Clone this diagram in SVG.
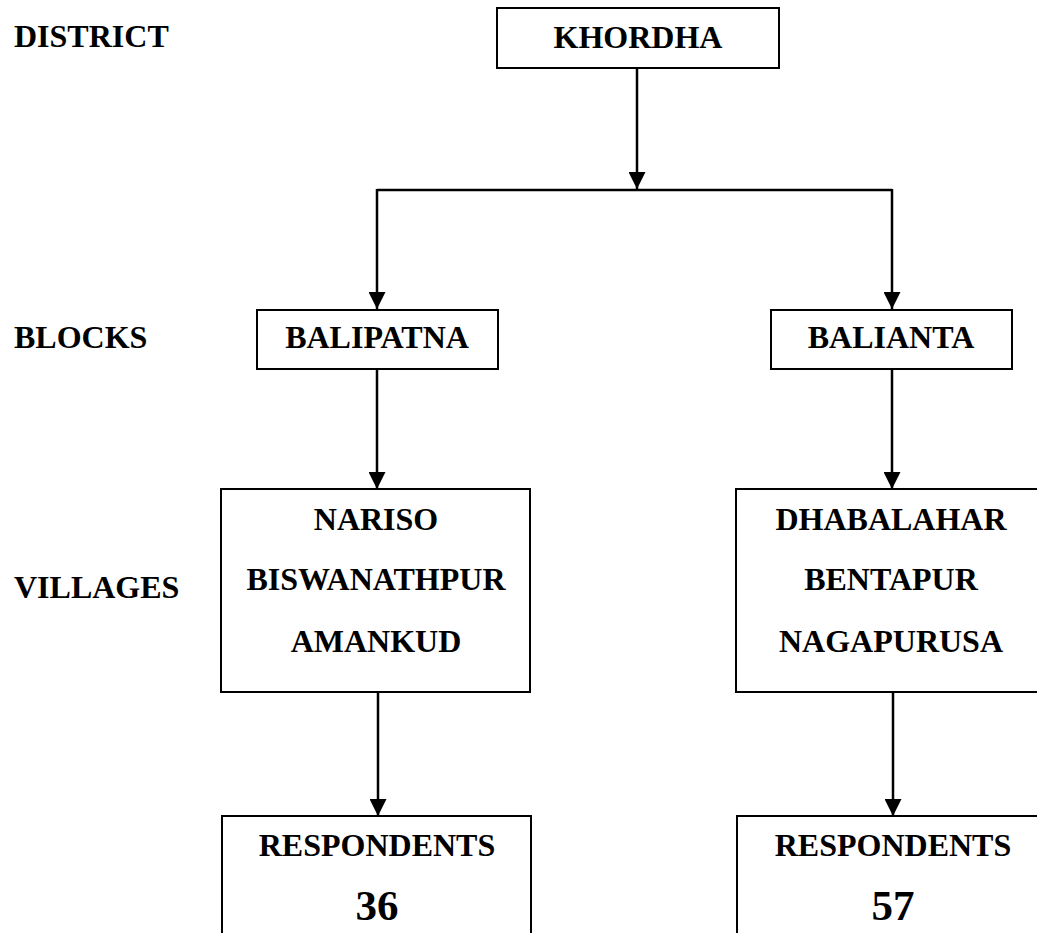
<svg xmlns="http://www.w3.org/2000/svg" width="1037" height="933" viewBox="0 0 1037 933">
<style>
.box{fill:#fff;stroke:#000;stroke-width:2}
.t{font-family:"Liberation Serif","Times New Roman",serif;font-weight:bold;font-size:32px;fill:#000}
.c{text-anchor:middle}
.big{font-size:43px}
.ln{fill:none;stroke:#000;stroke-width:2.5}
</style>
<defs>
<marker id="ah" viewBox="0 0 10 10" refX="10" refY="5" markerWidth="17" markerHeight="17" markerUnits="userSpaceOnUse" orient="auto">
<path d="M0,0 L10,5 L0,10 Z" fill="#000"/>
</marker>
</defs>
<g id="labels">
<text class="t" x="14" y="47">DISTRICT</text>
<text class="t" x="14" y="348">BLOCKS</text>
<text class="t" x="14" y="598">VILLAGES</text>
</g>
<g id="connectors">
<line class="ln" x1="637" y1="68" x2="637" y2="189" marker-end="url(#ah)"/>
<line class="ln" x1="377" y1="190" x2="892" y2="190"/>
<line class="ln" x1="377" y1="189" x2="377" y2="309" marker-end="url(#ah)"/>
<line class="ln" x1="892" y1="189" x2="892" y2="309" marker-end="url(#ah)"/>
<line class="ln" x1="377" y1="369" x2="377" y2="489" marker-end="url(#ah)"/>
<line class="ln" x1="892" y1="369" x2="892" y2="489" marker-end="url(#ah)"/>
<line class="ln" x1="378" y1="692" x2="378" y2="816" marker-end="url(#ah)"/>
<line class="ln" x1="893" y1="692" x2="893" y2="816" marker-end="url(#ah)"/>
</g>
<g id="khordha">
<rect class="box" x="497" y="8" width="282" height="60"/>
<text class="t c" x="638" y="48">KHORDHA</text>
</g>
<g id="balipatna">
<rect class="box" x="257" y="310" width="241" height="59"/>
<text class="t c" x="377" y="348">BALIPATNA</text>
</g>
<g id="balianta">
<rect class="box" x="771" y="310" width="241" height="59"/>
<text class="t c" x="891" y="348">BALIANTA</text>
</g>
<g id="villages-left">
<rect class="box" x="221" y="489" width="309" height="203"/>
<text class="t c" x="376" y="530">NARISO</text>
<text class="t c" x="376" y="590">BISWANATHPUR</text>
<text class="t c" x="376" y="652">AMANKUD</text>
</g>
<g id="villages-right">
<rect class="box" x="736" y="489" width="310" height="203"/>
<text class="t c" x="891" y="530">DHABALAHAR</text>
<text class="t c" x="891" y="590">BENTAPUR</text>
<text class="t c" x="891" y="652">NAGAPURUSA</text>
</g>
<g id="respondents-left">
<rect class="box" x="222" y="816" width="309" height="130"/>
<text class="t c" x="377" y="856">RESPONDENTS</text>
<text class="t c big" x="377" y="920">36</text>
</g>
<g id="respondents-right">
<rect class="box" x="737" y="816" width="310" height="130"/>
<text class="t c" x="893" y="856">RESPONDENTS</text>
<text class="t c big" x="893" y="920">57</text>
</g>
</svg>
